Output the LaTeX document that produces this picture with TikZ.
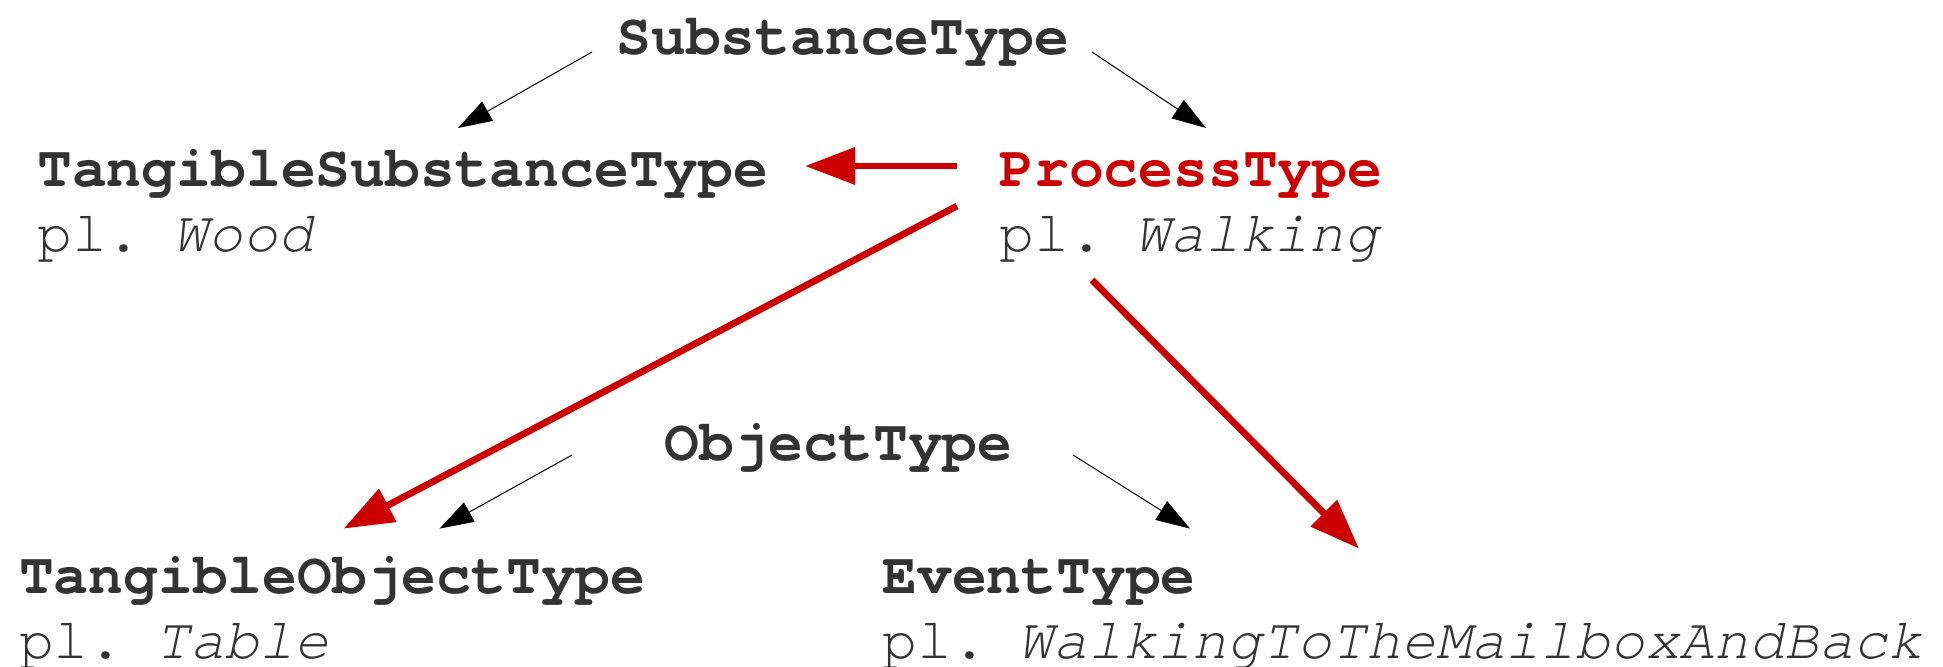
\documentclass[tikz,border=0pt]{standalone}
\usepackage{fontspec}
\setmainfont{TeX Gyre Cursor}
\usetikzlibrary{arrows.meta,calc}
\definecolor{txtgray}{HTML}{333333}
\definecolor{myred}{HTML}{CC0000}
\begin{document}
\begin{tikzpicture}[x=0.5pt,y=-0.5pt,
  title/.style={font=\fontsize{29}{32}\selectfont\bfseries, text=txtgray, inner sep=0pt, anchor=base west},
  redtitle/.style={title, text=myred},
  example/.style={font=\fontsize{29}{32}\selectfont, text=txtgray, inner sep=0pt, anchor=base west},
  thinarrow/.style={draw=black, line width=0.5pt, -{Triangle[length=17pt,width=11pt]}},
  redarrow/.style={draw=myred, line width=3.4pt, -{Triangle[length=25pt,width=18pt]}}]
\useasboundingbox (0,0) rectangle (1943,667);

\node[title] (sub) at (616,54.5) {SubstanceType};
\node[title] (tsub) at (37,187) {TangibleSubstanceType};
\node[example] (wood) at ($(tsub.base west)+(0,64.5)$) {pl.\kern-1.5pt\ \textit{Wood}};
\node[redtitle] (proc) at (999,187) {ProcessType};
\node[example] (walk) at ($(proc.base west)+(0,64.5)$) {pl.\kern-1.5pt\ \textit{Walking}};
\node[title] (obj) at (664,461) {ObjectType};
\node[title] (tobj) at (18.6,593.6) {TangibleObjectType};
\node[example] (table) at ($(tobj.base west)+(0,64.5)$) {pl.\kern-1.5pt\ \textit{Table}};
\node[title] (ev) at (882,593.6) {EventType};
\node[example] (mail) at ($(ev.base west)+(0,64.5)$) {pl.\kern-1.5pt\ \textit{WalkingToTheMailboxAndBack}};

\draw[thinarrow] ($(sub.base west)+(-24,-2.5)$) -- ($(tsub.base west)+(421,-59)$);
\draw[thinarrow] ($(sub.base west)+(476,-2.5)$) -- ($(proc.base west)+(207,-59)$);
\draw[thinarrow] ($(obj.base west)+(-92,-6)$) -- ($(tobj.base west)+(421,-65)$);
\draw[thinarrow] ($(obj.base west)+(409,-6)$) -- ($(ev.base west)+(308,-65)$);

\draw[redarrow] ($(proc.base west)+(-42,-21)$) -- ($(tsub.base west)+(768,-21)$);
\draw[redarrow] ($(proc.base west)+(-42,19)$) -- ($(tobj.base west)+(325,-65)$);
\draw[redarrow] ($(proc.base west)+(93,93)$) -- ($(ev.base west)+(477,-45)$);
\end{tikzpicture}
\end{document}
